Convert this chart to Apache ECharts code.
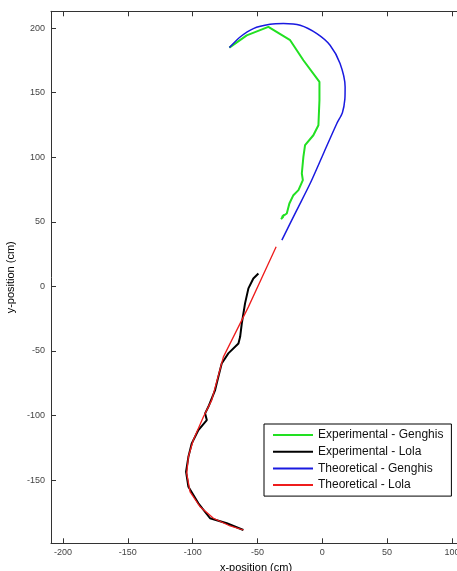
<!DOCTYPE html>
<html>
<head>
<meta charset="utf-8">
<script src="https://cdn.jsdelivr.net/npm/echarts@6/dist/echarts.min.js"></script>
<style>
html,body{margin:0;padding:0;background:#fff;}
#c{width:457px;height:571px;}
</style>
</head>
<body>
<div id="c"></div>
<script>
var xTicks = [-200, -150, -100, -50, 0, 50, 100];
var yTicks = [-150, -100, -50, 0, 50, 100, 150, 200];

var expGenghis = [
  [-71.7,184.9],[-58.3,194.4],[-41.6,200.9],[-24.8,190.6],[-14.6,175.1],[-2.2,158.3],
  [-2.2,144.1],[-3.0,124.8],[-6.9,117.0],[-13.3,109.3],[-14.6,100.2],[-15.8,87.4],
  [-15.0,82.2],[-18.4,74.5],[-22.3,70.6],[-25.4,64.2],[-27.4,56.4],[-31.2,53.8],
  [-29.5,55.5],[-31.8,52.0],[-30.0,54.0]
];
var expLola = [
  [-49.3,10.0],[-50.5,9.0],[-53.2,6.1],[-57.0,-1.6],[-59.6,-13.2],[-62.1,-28.7],[-63.4,-39.1],
  [-64.7,-44.2],[-72.5,-51.9],[-77.6,-59.7],[-80.2,-70.0],[-82.7,-80.3],[-87.9,-93.3],
  [-90.4,-98.4],[-89.1,-103.6],[-95.6,-111.3],[-100.7,-121.6],[-103.3,-132.0],
  [-105.1,-143.6],[-103.3,-155.2],[-95.6,-168.0],[-86.6,-179.6],[-73.7,-183.5],[-60.9,-188.7]
];
var theoGenghis = [
  [-71.7,184.9],[-63.4,193.1],[-53.2,199.6],[-40.3,202.9],[-30.0,203.5],[-17.1,202.2],
  [-4.2,195.7],[6.0,186.7],[13.7,172.5],[17.6,154.4],[17.4,145.0],[15.5,134.5],[11.2,126.1],
  [0.9,102.9],[-9.4,79.6],[-19.7,59.0],[-31.2,35.8]
];
var theoLola = [
  [-35.6,30.6],[-57.0,-15.9],[-76.3,-54.6],[-85.3,-88.1],[-91.7,-101.0],[-99.5,-119.0],
  [-103.3,-132.0],[-104.6,-144.8],[-102.0,-159.1],[-94.3,-170.7],[-84.0,-179.6],
  [-71.1,-185.6],[-60.9,-188.7]
];
var seriesNames = ['Experimental - Genghis','Experimental - Lola','Theoretical - Genghis','Theoretical - Lola'];

var chart = echarts.init(document.getElementById('c'), null, {renderer:'canvas'});
var font = 'Liberation Sans, Arial, sans-serif';
function xAxisCfg(pos, labels){
  return {
    type:'value', position:pos, min:-209.3, max:107,
    axisLine:{show:true, onZero:false, lineStyle:{color:'#333', width:1}},
    axisTick:{show:true, inside:true, length:5, customValues:xTicks, lineStyle:{color:'#333'}},
    axisLabel:{show:labels, customValues:xTicks, fontSize:9, color:'#444', fontFamily:font, margin:5},
    splitLine:{show:false},
    name: labels ? 'x-position (cm)' : '',
    nameLocation:'middle', nameGap:15,
    nameTextStyle:{fontSize:11, color:'#000', fontFamily:font}
  };
}
chart.setOption({
  animation:false,
  backgroundColor:'#fff',
  grid:{left:51, top:11.3, width:410, height:532, containLabel:false, outerBoundsMode:'none'},
  xAxis:[xAxisCfg('bottom', true), xAxisCfg('top', false)],
  yAxis:{
    type:'value', min:-199, max:213,
    axisLine:{show:true, onZero:false, lineStyle:{color:'#333', width:1}},
    axisTick:{show:true, inside:true, length:5, customValues:yTicks, lineStyle:{color:'#333'}},
    axisLabel:{customValues:yTicks, fontSize:9, color:'#444', fontFamily:font, margin:6},
    splitLine:{show:false},
    name:'y-position (cm)', nameLocation:'middle', nameGap:33,
    nameTextStyle:{fontSize:11, color:'#000', fontFamily:font}
  },
  legend:{
    orient:'vertical', left:264, top:424,
    itemWidth:40, itemHeight:12, itemGap:4.7,
    padding:[5,8,5,8],
    backgroundColor:'#fff', borderColor:'#000', borderWidth:1,
    itemStyle:{opacity:0},
    textStyle:{fontSize:12, color:'#111', fontFamily:font},
    data:seriesNames
  },
  series:[
    {name:seriesNames[0], type:'line', data:expGenghis, symbol:'none', lineStyle:{color:'#22e022', width:2}, itemStyle:{color:'#22e022'}},
    {name:seriesNames[1], type:'line', data:expLola, symbol:'none', lineStyle:{color:'#000', width:2}, itemStyle:{color:'#000'}},
    {name:seriesNames[2], type:'line', data:theoGenghis, symbol:'none', smooth:0.25, lineStyle:{color:'#1a1ae0', width:1.5}, itemStyle:{color:'#1a1ae0'}},
    {name:seriesNames[3], type:'line', data:theoLola, symbol:'none', lineStyle:{color:'#ee1c1c', width:1.3}, itemStyle:{color:'#ee1c1c'}}
  ]
});
</script>
</body>
</html>
